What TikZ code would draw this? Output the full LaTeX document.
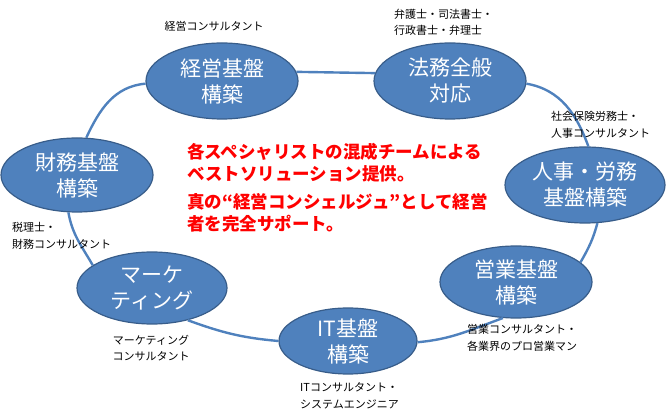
\documentclass[tikz,border=0pt]{standalone}
\usepackage{fontspec}
\setmainfont{Noto Sans CJK JP}
\usepackage{tikz}
\usetikzlibrary{shapes.geometric}
\usepackage{xcolor}
\definecolor{ringblue}{RGB}{79,129,189}
\definecolor{edgeblue}{RGB}{56,93,138}
\definecolor{msgred}{RGB}{255,0,0}

\begin{document}
\begin{tikzpicture}[x=1pt, y=1pt,
  field/.style={ellipse, draw=edgeblue, line width=1.2pt, fill=ringblue, text=white, align=center, inner sep=0pt, minimum width=152pt, minimum height=76pt, font=\fontsize{21}{26}\selectfont},
  role/.style={align=left, inner sep=0pt, font=\fontsize{11}{16.5}\selectfont},
  ring/.style={draw=ringblue, line width=2.4pt}]
  \useasboundingbox (0,0) rectangle (670,-419);

  \node[field] (keiei) at (222,-81) {経営基盤\\構築};
  \node[field] (houmu) at (450,-81) {法務全般\\対応};
  \node[field, minimum width=160pt] (jinji) at (585,-185) {人事・労務\\基盤構築};
  \node[field, minimum height=72pt] (eigyo) at (516,-282) {営業基盤\\構築};
  \node[field, minimum width=138pt, minimum height=66pt] (it) at (348,-341) {IT基盤\\構築};
  \node[field, minimum width=150pt, minimum height=72pt] (marke) at (152,-288) {マーケ\\ティング};
  \node[field, minimum height=74pt] (zaimu) at (77,-175) {財務基盤\\構築};

  \draw[ring] (keiei.7) -- (houmu.174);
  \draw[ring] (houmu.-2) to[out=-10, in=110] (jinji.85);
  \draw[ring] (jinji.-72) to[out=-105, in=60] (eigyo.17);
  \draw[ring] (eigyo.-110) to[out=-160, in=5] (it.-1);
  \draw[ring] (it.180) to[out=175, in=-20] (marke.-42);
  \draw[ring] (marke.159) to[out=120, in=-80] (zaimu.-103);
  \draw[ring] (zaimu.76) to[out=65, in=185] (keiei.182);

  \node[role, align=center] (keiei-role) at (214,-26) {経営コンサルタント};
  \node[role, anchor=west] (houmu-role) at (394,-22.5) {弁護士・司法書士・\\行政書士・弁理士};
  \node[role, anchor=west] (jinji-role) at (551,-125) {社会保険労務士・\\人事コンサルタント};
  \node[role, anchor=west] (eigyo-role) at (467,-338) {営業コンサルタント・\\各業界のプロ営業マン};
  \node[role, anchor=west] (it-role) at (300,-396) {ITコンサルタント・\\システムエンジニア};
  \node[role, align=center] (marke-role) at (151,-348) {マーケティング\\コンサルタント};
  \node[role, anchor=west] (zaimu-role) at (12,-236) {税理士・\\財務コンサルタント};

  \node[anchor=north west, inner sep=0pt, align=left, text=msgred, font=\fontsize{17.5}{22.5}\selectfont\bfseries] (msg) at (187,-143) {各スペシャリストの混成チームによる\\ベストソリューション提供。\\[5pt]真の“経営コンシェルジュ”として経営\\者を完全サポート。};
\end{tikzpicture}
\end{document}
